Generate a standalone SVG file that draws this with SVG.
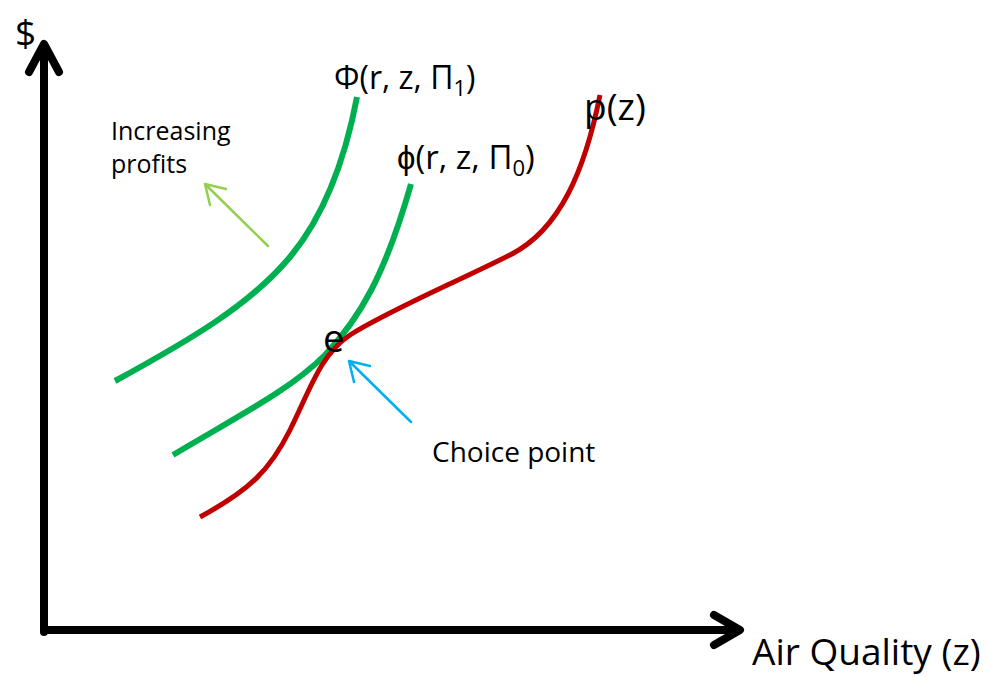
<svg xmlns="http://www.w3.org/2000/svg" width="990" height="677" viewBox="0 0 990 677">
<style>
.t{font-family:"Open Sans","Liberation Sans",sans-serif;fill:#000}
.ax{stroke:#000;stroke-width:8;fill:none;stroke-linecap:round;stroke-linejoin:round}
.g{stroke:#00B050;stroke-width:6;fill:none}
.r{stroke:#C00000;stroke-width:5;fill:none}
</style>
<rect width="990" height="677" fill="#fff"/>
<g id="axes">
<path class="ax" d="M44,632 L44,46 M29,72 L44,44 L59,72"/>
<path class="ax" d="M44,630 L738,630 M714,615 L740,630 L714,645"/>
<text class="t" x="15" y="46" font-size="37">$</text>
<text class="t" x="752" y="665" font-size="37">Air Quality (z)</text>
</g>
<g id="curves">
<path id="phi1" class="g" d="M115,381 C190,340 250,305 290,257 C325,215 345,160 357,97"/>
<path id="phi0" class="g" d="M173,455 C240,415 290,390 325,355 C360,318 385,275 411,184"/>
<path id="pz" class="r" d="M200,517 C250,490 270,470 290,430 C310,390 320,355 350,335 C390,310 450,285 510,255 C560,230 585,170 600,95"/>
</g>
<g id="labels">
<text class="t" x="334" y="89" font-size="32">Φ(r, z, Π<tspan font-size="22" dy="7">1</tspan><tspan dy="-7">)</tspan></text>
<text class="t" x="397" y="169" font-size="33">ϕ(r, z, Π<tspan font-size="22" dy="7">0</tspan><tspan dy="-7">)</tspan></text>
<text class="t" x="584" y="120" font-size="37">p(z)</text>
<text class="t" x="323" y="352" font-size="38">e</text>
<text class="t" x="111" y="140" font-size="25">Increasing</text>
<text class="t" x="111" y="173" font-size="25">profits</text>
<text class="t" x="432" y="462" font-size="28">Choice point</text>
</g>
<g id="connectors" fill="none" stroke-width="2.5" stroke-linecap="round" stroke-linejoin="round">
<path stroke="#92D050" d="M268,246 L205,184 M205,184 L226,189 M205,184 L210,205"/>
<path stroke="#00B0F0" d="M411,422 L349,361 M349,361 L370,366 M349,361 L354,382"/>
</g>
</svg>
